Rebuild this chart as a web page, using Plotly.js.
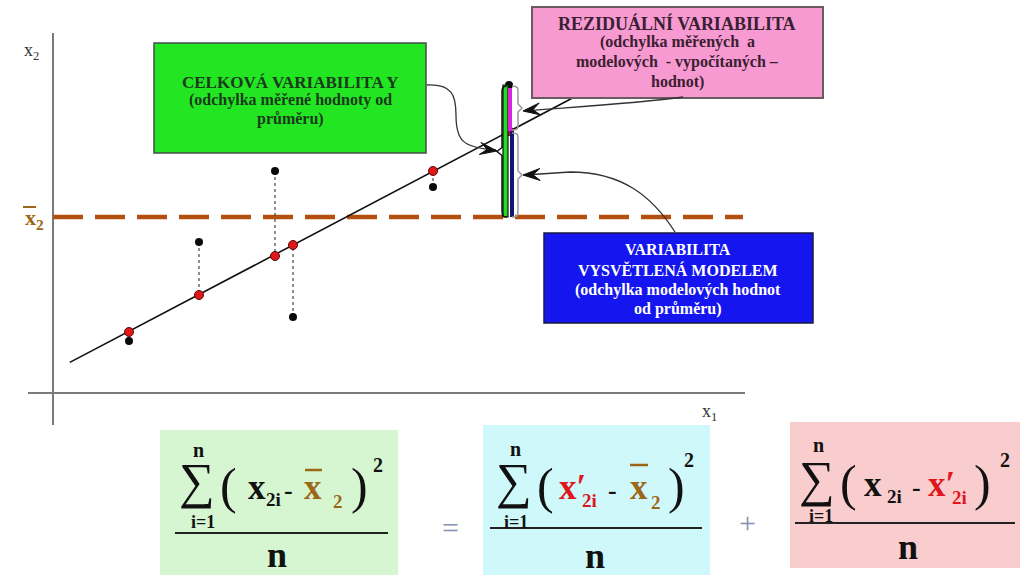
<!DOCTYPE html>
<html>
<head>
<meta charset="utf-8">
<script src="https://cdn.plot.ly/plotly-3.0.1.min.js"></script>
<style>
  html, body { margin: 0; padding: 0; background: #ffffff; }
  #chart { width: 1027px; height: 575px; }
</style>
</head>
<body>
<div id="chart"></div>
<script>
// Observations (x1, measured x2) and the values the regression model gives for them
const obsX1 = [1.9, 3.65, 5.55, 6.0, 9.5, 11.4];
const obsX2 = [2.6, 7.55, 11.1, 3.8, 10.3, 15.4];
const fitX2 = [3.05, 4.9, 6.85, 7.4, 11.1, 13.1];
// mean of x2 and the fitted regression line
const meanX2 = 8.8;
const meanLineX1 = [0, 17.25];
const fitLineX1 = [0.42, 13.0];
const fitLineX2 = [1.53, 14.76];
// observation whose deviations are split up next to it
const splitIdx = 5;
// observations with a dotted residual connector
const residualIdx = [1, 2, 3, 4];

const W = 1027, H = 575;
// axis scale: origin and pixels per unit
const OX = 53, OY = 393, SX = 40, SY = 20;
const X = v => OX + SX * v;
const Y = v => OY - SY * v;
const P = x => x / W;
const Q = y => 1 - y / H;

const SERIF = 'Liberation Serif, Times New Roman, serif';
const RED = '#e0161e';
const BROWN = '#9c6818';
const OPCOL = '#8391b3';

// path given in pixels -> path in paper coordinates
function pathPx(str) {
  const t = str.trim().split(/\s+/);
  let out = [], isX = true;
  for (const tok of t) {
    if (/^[A-Za-z]$/.test(tok)) { out.push(tok); isX = true; continue; }
    const v = parseFloat(tok);
    out.push(isX ? P(v).toFixed(5) : Q(v).toFixed(5));
    isX = !isX;
  }
  return out.join(' ');
}
function rectPx(x0, y0, x1, y1, fill, lineColor, lw, layer) {
  return {type: 'rect', xref: 'paper', yref: 'paper', x0: P(x0), x1: P(x1), y0: Q(y1), y1: Q(y0),
    fillcolor: fill, line: {color: lineColor || fill, width: lw || 0}, layer: layer || 'above'};
}
function linePx(x0, y0, x1, y1, color, w) {
  return {type: 'line', xref: 'paper', yref: 'paper', x0: P(x0), x1: P(x1), y0: Q(y0), y1: Q(y1),
    line: {color: color, width: w}, layer: 'above'};
}
function curve(str, color, w) {
  return {type: 'path', xref: 'paper', yref: 'paper', path: pathPx(str), line: {color: color, width: w}, layer: 'above'};
}
// dart-shaped arrow head, tip at (tx,ty), pointing along (dx,dy)
function dart(tx, ty, dx, dy) {
  const len = Math.hypot(dx, dy); dx /= len; dy /= len;
  const nx = -dy, ny = dx, L = 17, Wd = 6, N = 10;
  const p = (a, b) => (a).toFixed(1) + ' ' + (b).toFixed(1);
  const s = 'M ' + p(tx, ty) + ' L ' + p(tx - L * dx + Wd * nx, ty - L * dy + Wd * ny) +
            ' L ' + p(tx - N * dx, ty - N * dy) + ' L ' + p(tx - L * dx - Wd * nx, ty - L * dy - Wd * ny) + ' Z';
  return {type: 'path', xref: 'paper', yref: 'paper', path: pathPx(s), fillcolor: '#111111',
    line: {color: '#111111', width: 1}, layer: 'above'};
}
const ann = [];
function txt(text, cx, cy, size, color, opts) {
  opts = opts || {};
  ann.push({xref: 'paper', yref: 'paper', x: P(cx), y: Q(cy), text: text, showarrow: false,
    xanchor: opts.xanchor || 'center', yanchor: 'middle',
    font: {family: opts.family || SERIF, size: size, color: color}});
}

// ---------- traces ----------
const traces = [];
traces.push({x: meanLineX1, y: [meanX2, meanX2], mode: 'lines',
  line: {color: '#b4500f', width: 4.5, dash: '30px,12px'}, hoverinfo: 'skip'});
traces.push({x: fitLineX1, y: fitLineX2, mode: 'lines', line: {color: '#111111', width: 1.6}, hoverinfo: 'skip'});
residualIdx.forEach(i => {
  traces.push({x: [obsX1[i], obsX1[i]], y: [obsX2[i], fitX2[i]], mode: 'lines',
    line: {color: '#444444', width: 1.2, dash: 'dot'}, hoverinfo: 'skip'});
});
traces.push({x: obsX1, y: obsX2, mode: 'markers', marker: {color: '#0a0a0a', size: 8}, name: 'x2'});
traces.push({x: obsX1, y: fitX2, mode: 'markers',
  marker: {color: '#e01818', size: 9, line: {color: '#5a0a0a', width: 1}}, name: "x2'"});

// ---------- shapes ----------
const shapes = [];
// formula panels
shapes.push(rectPx(160, 430, 398, 575, '#d5f6d1', null, 0, 'below'));
shapes.push(rectPx(483, 425, 710, 575, '#cff8fa', null, 0, 'below'));
shapes.push(rectPx(790, 422, 1020, 568, '#f9cdcd', null, 0, 'below'));
// axes
shapes.push({type: 'line', xref: 'x', yref: 'y', x0: 0, x1: 0, y0: -1.6, y1: 18, line: {color: '#7a7a7a', width: 2}, layer: 'below'});
shapes.push({type: 'line', xref: 'x', yref: 'y', x0: -0.625, x1: 17.3, y0: 0, y1: 0, line: {color: '#7a7a7a', width: 2}, layer: 'below'});

// split of the deviation at the chosen observation
const ax = obsX1[splitIdx];
shapes.push({type: 'rect', xref: 'x', yref: 'y', xsizemode: 'pixel', xanchor: ax, x0: -6, x1: -1,
  y0: meanX2, y1: obsX2[splitIdx], fillcolor: '#22dd22', line: {color: '#111111', width: 1.2}, layer: 'above'});
shapes.push({type: 'rect', xref: 'x', yref: 'y', xsizemode: 'pixel', xanchor: ax, x0: -1, x1: 3,
  y0: fitX2[splitIdx], y1: obsX2[splitIdx] - 0.15, fillcolor: '#dd22dd', line: {width: 0}, layer: 'above'});
shapes.push({type: 'rect', xref: 'x', yref: 'y', xsizemode: 'pixel', xanchor: ax, x0: 1, x1: 5,
  y0: meanX2, y1: fitX2[splitIdx], fillcolor: '#141473', line: {width: 0}, layer: 'above'});
// braces
const bx = X(ax), yTop = Y(obsX2[splitIdx]), yFit = Y(fitX2[splitIdx]), yMean = Y(meanX2);
function braceRight(x, y0, y1) {
  const m = (y0 + y1) / 2;
  return 'M ' + (x - 6) + ' ' + y0 + ' C ' + x + ' ' + y0 + ' ' + x + ' ' + (y0 + 2) + ' ' + x + ' ' + (y0 + 6) +
    ' L ' + x + ' ' + (m - 4) + ' L ' + (x + 4) + ' ' + m + ' L ' + x + ' ' + (m + 4) +
    ' L ' + x + ' ' + (y1 - 6) + ' C ' + x + ' ' + (y1 - 2) + ' ' + x + ' ' + y1 + ' ' + (x - 6) + ' ' + y1;
}
function braceLeft(x, y0, y1) {
  const m = (y0 + y1) / 2;
  return 'M ' + (x + 5) + ' ' + y0 + ' C ' + x + ' ' + y0 + ' ' + x + ' ' + (y0 + 3) + ' ' + x + ' ' + (y0 + 7) +
    ' L ' + x + ' ' + (m - 4) + ' L ' + (x - 5) + ' ' + m + ' L ' + x + ' ' + (m + 4) +
    ' L ' + x + ' ' + (y1 - 7) + ' C ' + x + ' ' + (y1 - 3) + ' ' + x + ' ' + y1 + ' ' + (x + 5) + ' ' + y1;
}
shapes.push(curve(braceRight(bx + 9, yTop + 1, yFit - 1), '#9a9a9a', 1.5));
shapes.push(curve(braceRight(bx + 9, yFit + 2, yMean), '#9a9a9a', 1.5));
shapes.push(curve(braceLeft(bx - 7, yTop + 1, yMean), '#111111', 1.5));

// label boxes
shapes.push(rectPx(154, 43, 426, 153, '#22e622', '#4a4a4a', 1.5));
shapes.push(rectPx(532, 7, 823, 98, '#f89ad2', '#6a5a62', 2));
shapes.push(rectPx(544, 233, 813, 323, '#1515f0', '#1a1a40', 1.5));

// connectors from boxes to braces
shapes.push(curve('M 427 85 C 452 84 456 95 456 115 C 456 140 462 148 ' + (bx - 13) + ' ' + ((yTop + yMean) / 2 - 1), '#333333', 1.3));
shapes.push(dart(bx - 12, (yTop + yMean) / 2, 1, 0.15));
shapes.push(curve('M 683 97 C 640 103 590 106 ' + (bx + 16) + ' ' + ((yTop + yFit) / 2 + 3), '#333333', 1.3));
shapes.push(dart(bx + 14, (yTop + yFit) / 2 + 3, -1, 0.12));
shapes.push(curve('M 675 232 C 652 196 622 172 570 172 L ' + (bx + 16) + ' ' + ((yFit + yMean) / 2 + 1), '#333333', 1.3));
shapes.push(dart(bx + 14, (yFit + yMean) / 2 + 1, -1, 0.03));

// ---------- texts ----------
// box labels
const gC = '#1b3a1b';
txt('<b>CELKOVÁ VARIABILITA Y</b>', 290, 82, 17, gC);
txt('<b>(odchylka měřené hodnoty od</b>', 290, 100, 16, gC);
txt('<b>průměru)</b>', 290, 119, 16, gC);
const pC = '#3a2030';
txt('<b>REZIDUÁLNÍ VARIABILITA</b>', 677, 23, 18, pC);
txt('<b>(odchylka měřených  a</b>', 677, 42, 16, pC);
txt('<b>modelových  - vypočítaných –</b>', 677, 62, 16, pC);
txt('<b>hodnot)</b>', 677, 82, 16, pC);
txt('<b>VARIABILITA</b>', 678, 250, 16, '#ffffff');
txt('<b>VYSVĚTLENÁ MODELEM</b>', 678, 270, 16, '#ffffff');
txt('<b>(odchylka modelových hodnot</b>', 678, 290, 16, '#ffffff');
txt('<b>od průměru)</b>', 678, 309, 16, '#ffffff');

// axis labels
txt('x<sub>2</sub>', 31, 52, 18, '#333333');
txt('x<sub>1</sub>', 709, 412, 18, '#333333');
txt('<b>x<sub>2</sub></b>', 34, 219, 22, BROWN);
shapes.push(linePx(23, 207, 36, 207, BROWN, 2));

// formulas
function sigma(cx, cy, nTop, iBot) {
  txt('∑', cx, cy, 50, '#111111');
  txt('<b>n</b>', nTop[0], nTop[1], 20, '#111111');
  txt('<b>i=1</b>', iBot[0], iBot[1], 18, '#111111');
}
// total
sigma(197, 481, [198, 450], [203, 522]);
txt('(', 228, 486, 50, '#111111');
txt('<b>x</b>', 257, 487, 35, '#111111');
txt('<b>2i</b>', 273, 499, 19, '#111111');
txt('<b>-</b>', 288, 490, 26, '#111111');
txt('<b>x</b>', 313, 487, 35, BROWN);
shapes.push(linePx(305, 470, 322, 470, BROWN, 2.5));
txt('<b>2</b>', 338, 501, 19, BROWN);
txt(')', 359, 486, 50, '#111111');
txt('<b>2</b>', 378, 465, 20, '#111111');
shapes.push(linePx(175, 533, 388, 533, '#222222', 2));
txt('<b>n</b>', 277, 555, 36, '#111111');
txt('=', 450, 527, 30, OPCOL);
// explained
sigma(514, 481, [515, 449], [516, 522]);
txt('(', 545, 486, 50, '#111111');
txt('<b>x′</b>', 572, 487, 35, RED);
txt('<b>2i</b>', 589, 500, 19, RED);
txt('<b>-</b>', 612, 490, 26, '#111111');
txt('<b>x</b>', 639, 487, 35, BROWN);
shapes.push(linePx(630, 465, 648, 465, BROWN, 2.5));
txt('<b>2</b>', 656, 502, 19, BROWN);
txt(')', 676, 486, 50, '#111111');
txt('<b>2</b>', 689, 460, 20, '#111111');
shapes.push(linePx(490, 528, 702, 528, '#222222', 2));
txt('<b>n</b>', 595, 556, 36, '#111111');
txt('+', 747, 522, 30, OPCOL);
// residual
sigma(817, 479, [818, 445], [821, 516]);
txt('(', 848, 483, 50, '#111111');
txt('<b>x</b>', 873, 484, 35, '#111111');
txt('<b>2i</b>', 894, 496, 19, '#111111');
txt('<b>-</b>', 916, 487, 26, '#111111');
txt('<b>x′</b>', 941, 484, 35, RED);
txt('<b>2i</b>', 959, 497, 19, RED);
txt(')', 982, 483, 50, '#111111');
txt('<b>2</b>', 1005, 460, 20, '#111111');
shapes.push(linePx(795, 523, 1015, 523, '#222222', 2));
txt('<b>n</b>', 908, 547, 36, '#111111');

const layout = {
  width: W, height: H,
  margin: {l: 0, r: 0, t: 0, b: 0, pad: 0},
  paper_bgcolor: '#ffffff', plot_bgcolor: '#ffffff',
  showlegend: false,
  xaxis: {range: [-OX / SX, (W - OX) / SX], visible: false, fixedrange: true},
  yaxis: {range: [(OY - H) / SY, OY / SY], visible: false, fixedrange: true},
  shapes: shapes,
  annotations: ann
};
Plotly.newPlot('chart', traces, layout, {displayModeBar: false, staticPlot: true});
</script>
</body>
</html>
